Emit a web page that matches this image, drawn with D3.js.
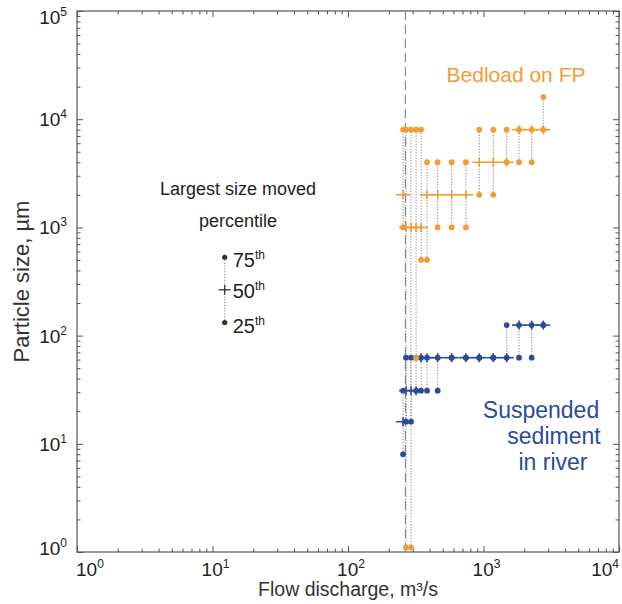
<!DOCTYPE html>
<html><head><meta charset="utf-8">
<script src="https://cdn.jsdelivr.net/npm/d3@7"></script>
<style>body{margin:0;background:#fff}svg{display:block;font-family:"Liberation Sans",Arial,sans-serif}</style>
</head><body><svg id="c" width="622" height="604"></svg>
<script>
// ---- data ----
const discharge = [255, 268, 292, 318, 346, 383, 459, 582, 742, 931, 1181, 1483, 1828, 2268, 2762];
const bedP25 = [1000, 1.1, 1.1, 62.5, 500, 500, 1000, 1000, 1000, 2000, 2000, 4000, 4000, 4000, 8000];
const bedP50 = [2000, 1000, 1000, 1000, 1000, 2000, 2000, 2000, 2000, 4000, 4000, 4000, 8000, 8000, 8000];
const bedP75 = [8000, 8000, 8000, 8000, 8000, 4000, 4000, 4000, 4000, 8000, 8000, 8000, 8000, 8000, 16000];
const susP25 = [8, 16, 16, 31, 31, 31, 31, 62.5, 62.5, 62.5, 62.5, 62.5, 62.5, 62.5, 125];
const susP50 = [16, 31, 31, 31, 62.5, 62.5, 62.5, 62.5, 62.5, 62.5, 62.5, 62.5, 125, 125, 125];
const susP75 = [31, 62.5, 62.5, 62.5, 62.5, 62.5, 62.5, 62.5, 62.5, 62.5, 62.5, 125, 125, 125, 125];
const thresholdQ = 265;
const xTickExp = [0, 1, 2, 3, 4];
const yTickExp = [0, 1, 2, 3, 4, 5];
const legendPct = [75, 50, 25];
const legendVals = [530, 265, 132];
const suspLines = ["Suspended", "sediment", "in river"];

const ORANGE = "#F39B36", BLUE = "#2C4A9A", DOT = "#888";
const svg = d3.select("#c");
const L = 77, R = 619, T = 11, B = 552;
const x = d3.scaleLog().domain([1, 1e4]).range([L, R]);
const y = d3.scaleLog().domain([1, 1e5]).range([B, T]);

function minors(n) { const a = []; for (let e = 0; e < n; e++) for (let k = 2; k <= 9; k++) a.push(k * Math.pow(10, e)); return a; }
const xMajor = xTickExp.map(e => Math.pow(10, e)), yMajor = yTickExp.map(e => Math.pow(10, e));
const axisColor = "#555";
function styleAxis(g) { g.select(".domain").remove(); g.selectAll("line").attr("stroke", axisColor); g.selectAll("text").remove(); }
svg.append("g").attr("transform", `translate(0,${B})`).call(d3.axisBottom(x).tickValues(xMajor).tickSize(-6).tickFormat("")).call(styleAxis);
svg.append("g").attr("transform", `translate(0,${B})`).call(d3.axisBottom(x).tickValues(minors(4)).tickSize(-3.5).tickFormat("")).call(styleAxis);
svg.append("g").attr("transform", `translate(0,${T})`).call(d3.axisTop(x).tickValues(xMajor).tickSize(-6).tickFormat("")).call(styleAxis);
svg.append("g").attr("transform", `translate(0,${T})`).call(d3.axisTop(x).tickValues(minors(4)).tickSize(-3.5).tickFormat("")).call(styleAxis);
svg.append("g").attr("transform", `translate(${L},0)`).call(d3.axisLeft(y).tickValues(yMajor).tickSize(-6).tickFormat("")).call(styleAxis);
svg.append("g").attr("transform", `translate(${L},0)`).call(d3.axisLeft(y).tickValues(minors(5)).tickSize(-3.5).tickFormat("")).call(styleAxis);
svg.append("g").attr("transform", `translate(${R},0)`).call(d3.axisRight(y).tickValues(yMajor).tickSize(-6).tickFormat("")).call(styleAxis);
svg.append("g").attr("transform", `translate(${R},0)`).call(d3.axisRight(y).tickValues(minors(5)).tickSize(-3.5).tickFormat("")).call(styleAxis);
svg.append("rect").attr("x", L).attr("y", T).attr("width", R - L).attr("height", B - T).attr("fill", "none").attr("stroke", axisColor).attr("stroke-width", 1.2);

// tick labels
const tl = svg.append("g").attr("fill", "#222").attr("font-size", 19);
xTickExp.forEach((e, i) => {
  const last = i === xTickExp.length - 1, first = i === 0;
  const t = tl.append("text").attr("x", x(Math.pow(10, e)) + (first ? -1 : last ? 0 : 3)).attr("y", 576)
    .attr("text-anchor", first ? "start" : last ? "end" : "middle");
  t.append("tspan").text("10"); t.append("tspan").attr("font-size", 12).attr("dy", -8).text(e);
});
yTickExp.forEach((e, i) => {
  const off = i === 0 ? -4 : i === yTickExp.length - 1 ? 6 : 0;
  const t = tl.append("text").attr("x", 67).attr("y", y(Math.pow(10, e)) + 7 + off).attr("text-anchor", "end");
  t.append("tspan").text("10"); t.append("tspan").attr("font-size", 12).attr("dy", -8).text(e);
});
svg.append("text").attr("x", 348).attr("y", 596).attr("text-anchor", "middle").attr("font-size", 19.5).attr("fill", "#333").text("Flow discharge, m³/s");
svg.append("text").attr("transform", `translate(29,${(T + B) / 2}) rotate(-90)`).attr("text-anchor", "middle").attr("font-size", 22).attr("fill", "#333").text("Particle size, µm");

// threshold
svg.append("line").attr("x1", x(thresholdQ)).attr("x2", x(thresholdQ)).attr("y1", T).attr("y2", B).attr("stroke", "#777").attr("stroke-width", 1).attr("stroke-dasharray", "9,5");

// dotted ranges
const series = [
  { p25: susP25, p50: susP50, p75: susP75, c: BLUE },
  { p25: bedP25, p50: bedP50, p75: bedP75, c: ORANGE }
];
const gl = svg.append("g");
series.forEach(s => {
  gl.selectAll(null).data(discharge).enter().append("line")
    .attr("x1", d => x(d)).attr("x2", d => x(d))
    .attr("y1", (d, i) => y(s.p25[i])).attr("y2", (d, i) => y(s.p75[i]))
    .attr("stroke", DOT).attr("stroke-width", 1).attr("stroke-dasharray", "1.2,1.6");
});
series.forEach(s => {
  const g = svg.append("g");
  discharge.forEach((q, i) => {
    const cx = x(q), cy = y(s.p50[i]);
    g.append("line").attr("x1", cx - 7).attr("x2", cx + 7).attr("y1", cy).attr("y2", cy).attr("stroke", s.c).attr("stroke-width", 1.6);
    g.append("line").attr("x1", cx).attr("x2", cx).attr("y1", cy - 4.5).attr("y2", cy + 4.5).attr("stroke", s.c).attr("stroke-width", 1.6);
  });
  g.selectAll(null).data(discharge).enter().append("circle").attr("cx", d => x(d)).attr("cy", (d, i) => y(s.p75[i])).attr("r", 2.9).attr("fill", s.c);
  g.selectAll(null).data(discharge).enter().append("circle").attr("cx", d => x(d)).attr("cy", (d, i) => y(s.p25[i])).attr("r", 2.9).attr("fill", s.c);
});

// labels
svg.append("text").attr("x", 516).attr("y", 82).attr("text-anchor", "middle").attr("font-size", 21).attr("fill", ORANGE).text("Bedload on FP");
const suspX = [541, 554, 553];
suspLines.forEach((t, i) => {
  svg.append("text").attr("x", suspX[i]).attr("y", 418 + i * 26).attr("text-anchor", "middle").attr("font-size", 23).attr("fill", BLUE).text(t);
});

// legend
const lg = svg.append("g");
lg.append("text").attr("x", 238).attr("y", 195).attr("text-anchor", "middle").attr("font-size", 18).attr("fill", "#222").text("Largest size moved");
lg.append("text").attr("x", 238).attr("y", 227).attr("text-anchor", "middle").attr("font-size", 18).attr("fill", "#222").text("percentile");
const lx = x(12.3);
lg.append("line").attr("x1", lx).attr("x2", lx).attr("y1", y(legendVals[0])).attr("y2", y(legendVals[2])).attr("stroke", DOT).attr("stroke-dasharray", "1.2,1.6");
lg.append("circle").attr("cx", lx).attr("cy", y(legendVals[0])).attr("r", 2.6).attr("fill", "#333");
lg.append("circle").attr("cx", lx).attr("cy", y(legendVals[2])).attr("r", 2.6).attr("fill", "#333");
lg.append("line").attr("x1", lx - 6).attr("x2", lx + 6).attr("y1", y(legendVals[1])).attr("y2", y(legendVals[1])).attr("stroke", "#333").attr("stroke-width", 1.3);
lg.append("line").attr("x1", lx).attr("x2", lx).attr("y1", y(legendVals[1]) - 5).attr("y2", y(legendVals[1]) + 5).attr("stroke", "#333").attr("stroke-width", 1.3);
legendPct.forEach((p, i) => {
  const t = lg.append("text").attr("x", lx + 8).attr("y", y(legendVals[i]) + (i === 1 ? 8 : 10)).attr("font-size", 20).attr("fill", "#222");
  t.append("tspan").text(p); t.append("tspan").attr("font-size", 12).attr("dy", -8).text("th");
});
</script></body></html>
